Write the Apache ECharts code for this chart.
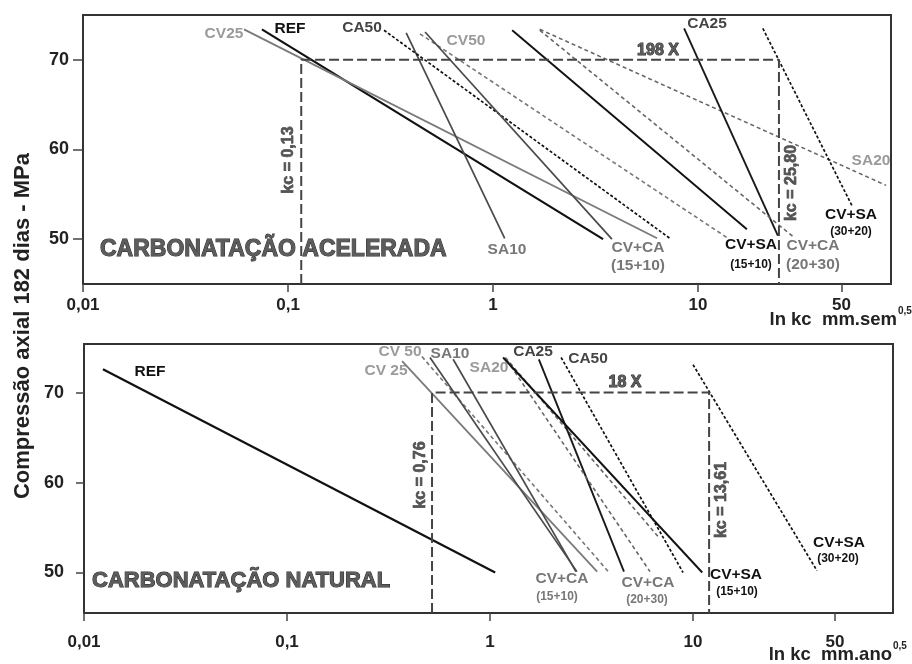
<!DOCTYPE html>
<html><head><meta charset="utf-8">
<script src="https://cdn.jsdelivr.net/npm/echarts@6/dist/echarts.min.js"></script>
<style>html,body{margin:0;padding:0;background:#fff}#c{width:912px;height:664px}</style>
</head><body><div id="c"></div>
<script>
// ---------- DATA ----------
const xTicks = [0.01, 0.1, 1, 10, 50];
const xTickLabels = ['0,01', '0,1', '1', '10', '50'];
const yTicks = [50, 60, 70];
const yTickLabels = ['50', '60', '70'];
const seriesNames = ['REF', 'CV25', 'CV50', 'SA10', 'SA20', 'CA25', 'CA50', 'CV+CA (15+10)', 'CV+CA (20+30)', 'CV+SA (15+10)', 'CV+SA (30+20)'];

// Carbonatação acelerada: [kc, fc] start and end of each line
const accREF  = [[0.0746, 73.4], [3.44, 50.0]];
const accCV25 = [[0.061, 73.4], [6.31, 50.1]];
const accCV50 = [[0.44, 72.9], [14.0, 50.1]];
const accSA10 = [[0.377, 73.0], [1.14, 50.1]];
const accSA20 = [[1.69, 73.4], [82.6, 56.0]];
const accCA25 = [[8.55, 73.5], [24.5, 50.4]];
const accCA50 = [[0.294, 73.3], [7.38, 50.0]];
const accCVCA1510 = [[0.466, 73.1], [3.80, 50.0]];
const accCVCA2030 = [[1.69, 73.3], [29.0, 50.3]];
const accCVSA1510 = [[1.24, 73.3], [17.3, 51.1]];
const accCVSA3020 = [[20.7, 73.5], [56.4, 53.7]];
const accKc = [0.116, 24.8];     // kc = 0,13 / kc = 25,80 at 70 MPa
const accFcRef = 70;

// Carbonatação natural
const natREF  = [[0.0124, 72.6], [1.06, 50.0]];
const natCV25 = [[0.369, 73.5], [3.37, 50.1]];
const natCV50 = [[0.462, 74.0], [3.86, 50.0]];
const natSA10 = [[0.658, 73.7], [2.65, 50.1]];
const natSA20 = [[1.19, 73.9], [6.72, 54.0]];
const natCA25 = [[1.74, 73.7], [4.57, 50.1]];
const natCA50 = [[2.24, 73.9], [8.93, 50.0]];
const natCVCA1510 = [[0.506, 73.9], [2.68, 50.1]];
const natCVCA2030 = [[1.21, 73.6], [6.14, 50.1]];
const natCVSA1510 = [[1.16, 73.9], [11.1, 50.0]];
const natCVSA3020 = [[10.0, 73.1], [40.8, 50.2]];
const natKc = [0.518, 12.0];     // kc = 0,76 / kc = 13,61 at 70 MPa
const natFcRef = 70;

const accLines = [accREF, accCV25, accCV50, accSA10, accSA20, accCA25, accCA50, accCVCA1510, accCVCA2030, accCVSA1510, accCVSA3020];
const natLines = [natREF, natCV25, natCV50, natSA10, natSA20, natCA25, natCA50, natCVCA1510, natCVCA2030, natCVSA1510, natCVSA3020];

// ---------- STYLES ----------
const FONT = '"Liberation Sans", Arial, sans-serif';
const lineStyles = {
  'REF':           {color: '#111', width: 2.2, type: 'solid'},
  'CV25':          {color: '#7a7a7a', width: 1.8, type: 'solid'},
  'CV50':          {color: '#777', width: 1.6, type: [4, 3]},
  'SA10':          {color: '#4a4a4a', width: 1.7, type: 'solid'},
  'SA20':          {color: '#666', width: 1.6, type: [4, 3]},
  'CA25':          {color: '#1a1a1a', width: 1.9, type: 'solid'},
  'CA50':          {color: '#111', width: 1.7, type: [3, 2]},
  'CV+CA (15+10)': {color: '#4a4a4a', width: 1.7, type: 'solid'},
  'CV+CA (20+30)': {color: '#666', width: 1.6, type: [4, 3]},
  'CV+SA (15+10)': {color: '#111', width: 1.9, type: 'solid'},
  'CV+SA (30+20)': {color: '#111', width: 1.7, type: [3, 2]}
};

const panels = [
  {grid: {left: 83, top: 15, width: 808, height: 269}, xMax: 87.3, yMin: 45, yMax: 75, lines: accLines, kc: accKc, fcRef: accFcRef, xMargin: 13, yMargin: 14, yTickLen: 10},
  {grid: {left: 84, top: 344, width: 809, height: 269}, xMax: 96.6, yMin: 45.5, yMax: 75.4, lines: natLines, kc: natKc, fcRef: natFcRef, xMargin: 21, yMargin: 20, yTickLen: 8}
];

function xLabel(v) {
  const i = xTicks.findIndex(t => Math.abs(Math.log10(t) - Math.log10(v)) < 1e-6);
  return i >= 0 ? xTickLabels[i] : '';
}
function yLabel(v) {
  const i = yTicks.findIndex(t => Math.abs(t - v) < 1e-6);
  return i >= 0 ? yTickLabels[i] : '';
}

const grids = [], xAxes = [], yAxes = [], series = [];
panels.forEach((p, pi) => {
  grids.push(Object.assign({show: true, borderColor: '#333', borderWidth: 2, backgroundColor: '#fff'}, p.grid));
  xAxes.push({
    type: 'log', logBase: 10, gridIndex: pi, min: 0.01, max: p.xMax,
    axisLine: {show: true, onZero: false, lineStyle: {color: '#333', width: 2}},
    axisTick: {show: true, length: 8, customValues: xTicks, lineStyle: {color: '#444', width: 1.5}},
    axisLabel: {customValues: xTicks, formatter: xLabel, fontWeight: 'bold', fontSize: 17, color: '#222', margin: p.xMargin, fontFamily: FONT},
    splitLine: {show: false}, minorTick: {show: false}
  });
  yAxes.push({
    type: 'value', gridIndex: pi, min: p.yMin, max: p.yMax,
    axisLine: {show: true, onZero: false, lineStyle: {color: '#333', width: 2}},
    axisTick: {show: true, length: p.yTickLen, customValues: yTicks, lineStyle: {color: '#444', width: 1.5}},
    axisLabel: {customValues: yTicks, formatter: yLabel, fontWeight: 'bold', fontSize: 18, color: '#222', margin: p.yMargin, fontFamily: FONT},
    splitLine: {show: false}
  });
  p.lines.forEach((ln, i) => {
    const st = lineStyles[seriesNames[i]];
    series.push({
      type: 'line', name: seriesNames[i] + '-' + pi, xAxisIndex: pi, yAxisIndex: pi,
      data: ln, symbol: 'none', silent: true, animation: false,
      lineStyle: {color: st.color, width: st.width, type: st.type}
    });
  });
  series.push({
    type: 'line', name: 'kc-' + pi, xAxisIndex: pi, yAxisIndex: pi, symbol: 'none', silent: true, animation: false,
    data: [[p.kc[0], p.yMin], [p.kc[0], p.fcRef], [p.kc[1], p.fcRef], [p.kc[1], p.yMin]],
    lineStyle: {color: '#444', width: 2, type: [10, 4]}
  });
});

// ---------- ANNOTATIONS (text) ----------
const LG = '#9a9a9a', MG = '#777', DG = '#444', BK = '#111';
const LBL = 15.5;
function t(text, x, y, color, size, align) {
  return {
    type: 'text', x: x, y: y, silent: true,
    style: {text: text, fill: color, font: 'bold ' + size + 'px ' + FONT, align: align || 'center', verticalAlign: 'middle'}
  };
}
function outlined(text, x, y, size, align) {
  return {type: 'text', x: x, y: y, silent: true,
    style: {text: text, fill: '#5c5c5c', stroke: '#2a2a2a', lineWidth: 1, font: 'bold ' + size + 'px ' + FONT, align: align || 'center', verticalAlign: 'middle'}};
}
function rot(text, x, y, size) {
  const g = outlined(text, x, y, size);
  g.rotation = Math.PI / 2;
  g.style.fill = '#555';
  g.style.stroke = '#333';
  g.style.lineWidth = 0.6;
  return g;
}

const graphics = [
  // y-axis title
  {type: 'text', x: 23, y: 326, rotation: Math.PI / 2, silent: true,
   style: {text: 'Compressão axial 182 dias - MPa', fill: '#222', font: 'bold 22px ' + FONT, align: 'center', verticalAlign: 'middle'}},
  // x-axis names
  t('ln kc  mm.sem', 897, 320, '#222', 18.5, 'right'),
  t('0,5', 898, 311, '#222', 10, 'left'),
  t('ln kc  mm.ano', 892, 655, '#222', 18.5, 'right'),
  t('0,5', 893, 646, '#222', 10, 'left'),

  // ---- top panel ----
  outlined('CARBONATAÇÃO ACELERADA', 100, 250, 23, 'left'),
  t('CV25', 224, 34, LG, LBL),
  t('REF', 290, 29, BK, LBL),
  t('CA50', 362, 28, DG, LBL),
  t('CV50', 466, 41, LG, LBL),
  t('CA25', 707, 24, DG, LBL),
  outlined('198 X', 658, 51, 16),
  t('SA20', 871, 161, LG, LBL),
  t('CV+SA', 851, 215, BK, LBL),
  t('(30+20)', 851, 232, BK, 12),
  t('SA10', 507, 250, MG, LBL),
  t('CV+CA', 638, 248, MG, LBL),
  t('(15+10)', 638, 266, MG, LBL),
  t('CV+SA', 751, 245, BK, LBL),
  t('(15+10)', 751, 265, BK, 12),
  t('CV+CA', 813, 246, MG, LBL),
  t('(20+30)', 813, 265, MG, LBL),
  rot('kc = 0,13', 289, 160, 16),
  rot('kc = 25,80', 792, 183, 16),

  // ---- bottom panel ----
  outlined('CARBONATAÇÃO NATURAL', 92, 581, 22, 'left'),
  t('REF', 150, 372, BK, LBL),
  t('CV 50', 400, 352, LG, LBL),
  t('CV 25', 386, 371, LG, LBL),
  t('SA10', 450, 354, MG, LBL),
  t('SA20', 489, 368, LG, LBL),
  t('CA25', 533, 352, DG, LBL),
  t('CA50', 588, 359, DG, LBL),
  outlined('18 X', 625, 383, 16),
  rot('kc = 0,76', 421, 475, 16),
  rot('kc = 13,61', 722, 500, 16),
  t('CV+CA', 562, 579, MG, LBL),
  t('(15+10)', 557, 597, MG, 12),
  t('CV+CA', 648, 583, MG, LBL),
  t('(20+30)', 647, 600, MG, 12),
  t('CV+SA', 736, 575, BK, LBL),
  t('(15+10)', 737, 592, BK, 12),
  t('CV+SA', 839, 543, BK, LBL),
  t('(30+20)', 838, 559, BK, 12)
];

const chart = echarts.init(document.getElementById('c'), null, {renderer: 'canvas'});
chart.setOption({
  animation: false,
  backgroundColor: '#fff',
  grid: grids,
  xAxis: xAxes,
  yAxis: yAxes,
  series: series,
  graphic: graphics
});
</script>
</body></html>
